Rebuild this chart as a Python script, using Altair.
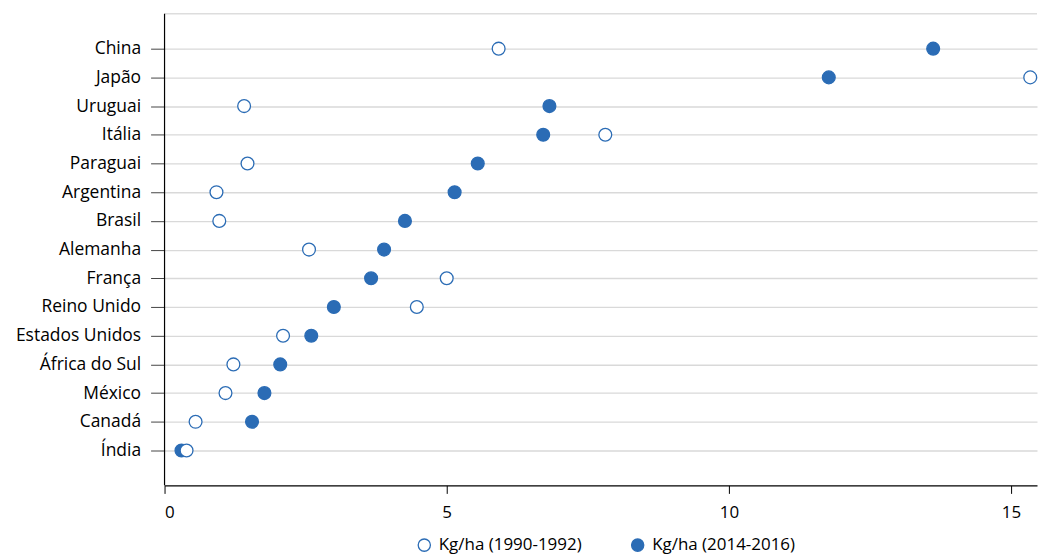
import altair as alt
import pandas as pd

countries = ["China", "Japão", "Uruguai", "Itália", "Paraguai", "Argentina", "Brasil",
             "Alemanha", "França", "Reino Unido", "Estados Unidos", "África do Sul",
             "México", "Canadá", "Índia"]
kg_1990 = [5.92, 15.34, 1.41, 7.81, 1.47, 0.92, 0.97, 2.56, 5.00, 4.47, 2.10, 1.22, 1.08, 0.55, 0.39]
kg_2014 = [13.62, 11.77, 6.82, 6.71, 5.55, 5.14, 4.26, 3.89, 3.66, 3.00, 2.60, 2.05, 1.77, 1.55, 0.30]
series = ["Kg/ha (1990-1992)", "Kg/ha (2014-2016)"]

rows = []
for c, v in zip(countries, kg_2014):
    rows.append({"país": c, "valor": v, "série": series[1]})
for c, v in zip(countries, kg_1990):
    rows.append({"país": c, "valor": v, "série": series[0]})
df = pd.DataFrame(rows)

BLUE = "#2b6cb5"
FONT = "Open Sans"

frame_src = pd.DataFrame({"a": [0]})
frame_top = alt.Chart(frame_src).mark_rule(color="#dddddd", strokeWidth=1.5).encode(
    x=alt.value(0), x2=alt.value(875), y=alt.value(0)
)
frame_left = alt.Chart(frame_src).mark_rule(color="black", strokeWidth=1.2).encode(
    x=alt.value(0), y=alt.value(0), y2=alt.value(473)
)

points = alt.Chart(df).mark_point(
    filled=True, size=165, stroke=BLUE, strokeWidth=1.3, opacity=1
).encode(
    x=alt.X("valor:Q", scale=alt.Scale(domain=[0, 15.46], nice=False, zero=True),
            axis=alt.Axis(values=[0, 5, 10, 15], title=None, grid=False, domainColor="black",
                          domainWidth=1.2, tickColor="black", tickSize=8, labelPadding=11,
                          labelFontSize=17, labelFont=FONT, labelColor="black")),
    y=alt.Y("país:N", sort=countries,
            scale=alt.Scale(type="point", padding=0, range=[35, 438]),
            axis=alt.Axis(title=None, grid=True, gridColor="#d9d9d9", gridWidth=1.3,
                          domain=False, tickColor="#444444",
                          tickSize=14, labelPadding=10, labelFontSize=17.5, labelFont=FONT,
                          labelColor="black", minExtent=157, maxExtent=157)),
    fill=alt.Fill("série:N", scale=alt.Scale(domain=series, range=["white", BLUE]),
                  legend=alt.Legend(title=None, orient="none", direction="horizontal",
                                    legendX=252, legendY=524, labelFontSize=17, labelFont=FONT,
                                    labelColor="black", symbolSize=150, symbolType="circle",
                                    symbolStrokeColor=BLUE, symbolStrokeWidth=1.3,
                                    columnPadding=46, labelOffset=6)),
)

chart = alt.layer(frame_top, points, frame_left).properties(
    width=875, height=473, padding={"top": 4, "left": 0, "right": 0, "bottom": 0}
).configure_view(stroke=None)

chart.save("out.html", embed_options={"renderer": "svg", "actions": False})
